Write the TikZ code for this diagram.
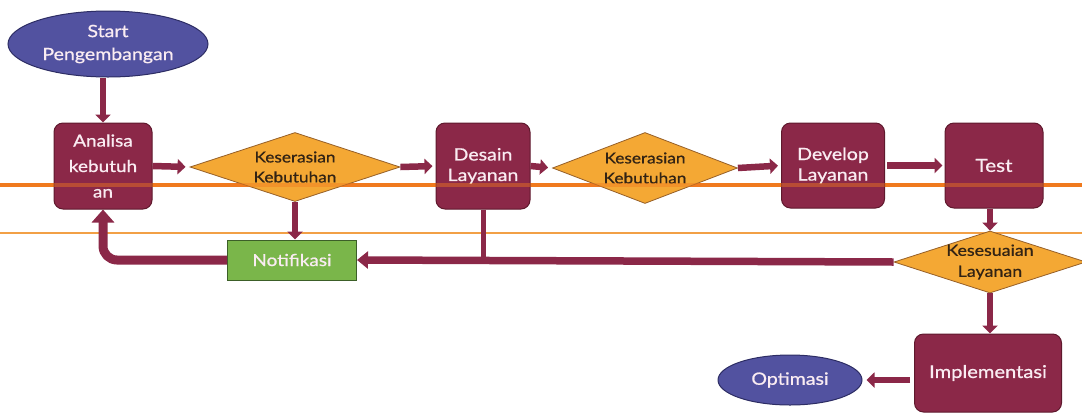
\documentclass[tikz,border=0pt]{standalone}
\usepackage{fontspec}
\setmainfont{Lato}[FakeStretch=1.15,FakeBold=0.8]
\usetikzlibrary{shapes.geometric,arrows.meta}
\definecolor{maroon}{RGB}{139,40,72}
\definecolor{maroonedge}{RGB}{95,25,45}
\definecolor{diamondfill}{RGB}{244,168,52}
\definecolor{diamondedge}{RGB}{150,95,40}
\definecolor{ovalfill}{RGB}{82,82,160}
\definecolor{ovaledge}{RGB}{45,45,100}
\definecolor{notegreen}{RGB}{122,182,74}
\definecolor{noteedge}{RGB}{60,95,40}
\definecolor{bandorange}{RGB}{240,122,30}
\definecolor{bandlight}{RGB}{242,160,70}
\definecolor{darktext}{RGB}{50,35,20}
\definecolor{boxtext}{RGB}{250,236,242}
\begin{document}
\begin{tikzpicture}[x=1pt,y=-1pt,
  stage/.style={rectangle, rounded corners=9pt, fill=maroon, draw=maroonedge, line width=1pt,
    text=boxtext, align=center, font=\fontsize{17}{20.5}\selectfont, inner sep=2pt},
  check/.style={diamond, fill=diamondfill, draw=diamondedge, line width=0.8pt, inner sep=0pt},
  checktext/.style={text=darktext, align=center, inner sep=0pt, font=\fontsize{15}{20}\selectfont},
  terminal/.style={ellipse, fill=ovalfill, draw=ovaledge, line width=1pt, inner sep=0pt,
    text=boxtext, align=center, font=\fontsize{17}{21}\selectfont},
  notice/.style={rectangle, fill=notegreen, draw=noteedge, line width=1pt,
    text=boxtext, font=\fontsize{16.5}{20}\selectfont},
  flow/.style={draw=maroon, line width=6.5pt, -{Triangle[width=15pt,length=8pt]}},
  bigflow/.style={draw=maroon, line width=9pt, rounded corners=14pt, -{Triangle[width=22pt,length=13pt]}},
  backflow/.style={draw=maroon, line width=7.5pt, -{Triangle[width=17pt,length=11pt]}}
]
\useasboundingbox (0,0) rectangle (1082,416);

% horizontal bands behind the chart
\draw[bandorange, line width=4pt] (0,185) -- (1082,185);
\draw[bandlight, line width=2pt] (0,233) -- (1082,233);

% process nodes
\node[terminal, minimum width=200pt, minimum height=66pt, font=\fontsize{17}{23}\selectfont] (start) at (108,44) {Start\\Pengembangan};
\node[stage, minimum width=98pt, minimum height=86pt, font=\fontsize{16.5}{25.5}\selectfont] (analisa) at (103,166) {Analisa\\kebutuh\\an};
\node[stage, minimum width=94pt, minimum height=86pt] (desain) at (483,166) {Desain\\Layanan};
\node[stage, minimum width=103pt, minimum height=85pt] (develop) at (833,165.5) {Develop\\Layanan};
\node[stage, minimum width=98pt, minimum height=85pt, font=\fontsize{18}{20}\selectfont] (test) at (994,165.5) {Test};
\node[stage, minimum width=147pt, minimum height=78pt, font=\fontsize{17.5}{20}\selectfont] (impl) at (988,373) {Implementasi};
\node[terminal, minimum width=144pt, minimum height=50pt] (opt) at (790,380) {Optimasi};
\node[notice, minimum width=129pt, minimum height=40pt] (notif) at (292,260) {Notifikasi};

% decision diamonds (fixed outline, caption set on top)
\node[check, minimum width=210pt, minimum height=69pt] (cek1) at (295,167) {};
\node[checktext] (cek1text) at (cek1) {Keserasian\\Kebutuhan};
\node[check, minimum width=185pt, minimum height=71pt] (cek2) at (645,168) {};
\node[checktext] (cek2text) at (cek2) {Keserasian\\Kebutuhan};
\node[check, minimum width=192pt, minimum height=62pt] (cek3) at (990,262) {};
\node[checktext, font=\fontsize{15.5}{21}\selectfont] (cek3text) at (cek3) {Kesesuaian\\Layanan};

% band shows faintly through the shapes
\draw[bandorange, line width=4pt, opacity=0.45] (0,185) -- (1082,185);

% main flow
\draw[flow] (analisa.north |- start.south) -- (analisa.north);
\draw[flow, shorten >=4pt] (analisa.east) -- (cek1.west);
\draw[flow, shorten >=3pt] (cek1.east) -- (desain.west);
\draw[flow, shorten >=4pt] (desain.east) -- (cek2.west);
\draw[flow, shorten >=3pt] (cek2.east) -- (develop.west);
\draw[flow, shorten <=2pt, shorten >=2pt] (develop.east) -- (test.west);
\draw[flow] (test.south -| cek3.north) -- (cek3.north);
\draw[flow] (cek3.south) -- (impl.north -| cek3.south);
\draw[flow, shorten <=4pt, shorten >=4pt] (impl.west |- opt.east) -- (opt.east);
\draw[flow] (cek1.south) -- (notif.north -| cek1.south);

% feedback to notification
\coordinate (join) at (desain.south |- notif.east);
\draw[backflow] (cek3.west) -- (notif.east);
\draw[draw=maroon, line width=5pt, -{Triangle[width=11pt,length=6pt]}] (desain.south) -- ([yshift=-3pt]join);
\draw[bigflow] (notif.west) -- (analisa.south |- notif.west) -- (analisa.south);
\end{tikzpicture}
\end{document}
